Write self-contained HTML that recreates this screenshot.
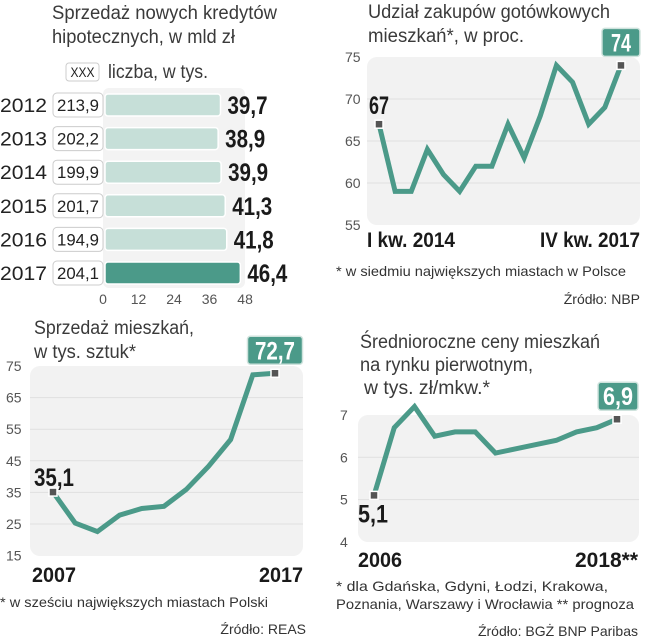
<!DOCTYPE html>
<html><head><meta charset="utf-8"><style>
html,body{margin:0;padding:0;background:#fff;width:645px;height:640px;overflow:hidden}
svg{display:block;font-family:"Liberation Sans",sans-serif}
.t{font-size:19px;fill:#3a3a3a}
.tick{font-size:14px;fill:#555}
.n{font-family:"Liberation Sans Narrow","Liberation Sans",sans-serif}
.b{font-weight:bold;fill:#1a1a1a}
.fn{font-size:14px;fill:#333}
</style></head><body>
<svg id="chart" width="645" height="640" viewBox="0 0 645 640">
<g>
 <text class="t" x="52" y="19" textLength="225" lengthAdjust="spacingAndGlyphs">Sprzedaż nowych kredytów</text>
 <text class="t" x="52" y="43" textLength="183" lengthAdjust="spacingAndGlyphs">hipotecznych, w mld zł</text>
 <rect x="66" y="63" width="33" height="18" rx="3" fill="#fff" stroke="#ccc"/>
 <text x="82.5" y="77" font-size="14" fill="#222" text-anchor="middle" textLength="24" lengthAdjust="spacingAndGlyphs">XXX</text>
 <text class="t" x="108" y="78" textLength="100" lengthAdjust="spacingAndGlyphs">liczba, w tys.</text>
 <rect x="103" y="88" width="142" height="200" rx="6" fill="#f3f3f3"/>
 <g id="bars"></g>
 <g id="barticks"></g>
</g>
<g>
 <text class="t" x="368" y="18" textLength="242" lengthAdjust="spacingAndGlyphs">Udział zakupów gotówkowych</text>
 <text class="t" x="368" y="42" textLength="156" lengthAdjust="spacingAndGlyphs">mieszkań*, w proc.</text>
 <rect x="367" y="57" width="273" height="168" rx="10" fill="#f2f2f2"/>
 <g id="c2"></g>
 <text class="b" x="367" y="247" font-size="21" textLength="88" lengthAdjust="spacingAndGlyphs">I kw. 2014</text>
 <text class="b" x="540" y="247" font-size="21" textLength="100" lengthAdjust="spacingAndGlyphs">IV kw. 2017</text>
 <text class="fn" x="336" y="276" textLength="290" lengthAdjust="spacingAndGlyphs">* w siedmiu największych miastach w Polsce</text>
 <text class="fn" x="640" y="304" text-anchor="end">Źródło: NBP</text>
</g>
<g>
 <text class="t" x="34" y="334" textLength="160" lengthAdjust="spacingAndGlyphs">Sprzedaż mieszkań,</text>
 <text class="t" x="34" y="358" textLength="102" lengthAdjust="spacingAndGlyphs">w tys. sztuk*</text>
 <rect x="30" y="366" width="273" height="190" rx="10" fill="#f2f2f2"/>
 <g id="c3"></g>
 <text class="b" x="32" y="582" font-size="21" textLength="44" lengthAdjust="spacingAndGlyphs">2007</text>
 <text class="b" x="259" y="582" font-size="21" textLength="44" lengthAdjust="spacingAndGlyphs">2017</text>
 <text class="fn" x="0" y="607" textLength="268" lengthAdjust="spacingAndGlyphs">* w sześciu największych miastach Polski</text>
 <text class="fn" x="306" y="634" text-anchor="end">Źródło: REAS</text>
</g>
<g>
 <text class="t" x="360" y="348" textLength="240" lengthAdjust="spacingAndGlyphs">Średnioroczne ceny mieszkań</text>
 <text class="t" x="360" y="371" textLength="173" lengthAdjust="spacingAndGlyphs">na rynku pierwotnym,</text>
 <text class="t" x="364" y="394" textLength="126" lengthAdjust="spacingAndGlyphs">w tys. zł/mkw.*</text>
 <rect x="358" y="415" width="281" height="127" rx="10" fill="#f2f2f2"/>
 <g id="c4"></g>
 <text class="b" x="358" y="567" font-size="21" textLength="44" lengthAdjust="spacingAndGlyphs">2006</text>
 <text class="b" x="575" y="567" font-size="21" textLength="63" lengthAdjust="spacingAndGlyphs">2018**</text>
 <text class="fn" x="336" y="591" textLength="272" lengthAdjust="spacingAndGlyphs">* dla Gdańska, Gdyni, Łodzi, Krakowa,</text>
 <text class="fn" x="336" y="609" textLength="298" lengthAdjust="spacingAndGlyphs">Poznania, Warszawy i Wrocławia ** prognoza</text>
 <text class="fn" x="638" y="636" text-anchor="end">Źródło: BGŻ BNP Paribas</text>
</g>
</svg>
<script>
const barYears=["2012","2013","2014","2015","2016","2017"];
const barValues=[39.7,38.9,39.9,41.3,41.8,46.4];
const barCounts=["213,9","202,2","199,9","201,7","194,9","204,1"];
const barTicks=[0,12,24,36,48];
const cashValues=[67,59,59,64,61,59,62,62,67,63,68,74,72,67,69,74];
const cashTicks=[55,60,65,70,75];
const salesValues=[35.1,25.3,22.6,27.8,29.9,30.6,35.9,43.2,51.7,72.2,72.7];
const salesTicks=[15,25,35,45,55,65,75];
const priceValues=[5.1,6.7,7.2,6.5,6.6,6.6,6.1,6.2,6.3,6.4,6.6,6.7,6.9];
const priceTicks=[4,5,6,7];
const NS="http://www.w3.org/2000/svg";
const TEAL="#4b9a89";
function mk(p,tag,at,txt){const e=document.createElementNS(NS,tag);for(const k in at)e.setAttribute(k,at[k]);if(txt!==undefined)e.textContent=txt;p.appendChild(e);return e;}
const fmt=v=>String(v).replace('.',',');
const bx=v=>103+v*2.96;
const by=i=>105+i*33.6;
const bg=document.getElementById('bars');
barYears.forEach((yr,i)=>{
 const last=i===barYears.length-1;
 let e=mk(bg,'text',{x:0,y:by(i)+7,'font-size':19,fill:'#222',textLength:47,lengthAdjust:'spacingAndGlyphs'},yr);
 
 
 e=mk(bg,'rect',{x:bx(0)+2,y:by(i)-11,width:bx(barValues[i])-bx(0)-2,height:22,rx:3,fill:last?TEAL:'#c6dfd8',stroke:'#fff','stroke-width':1.5});
 
 
 e=mk(bg,'rect',{x:53,y:by(i)-12,width:50,height:24,rx:4,fill:'#fff',stroke:'#ccc'});
 
 
 e=mk(bg,'text',{x:57,y:by(i)+6,'font-size':17,fill:'#222',textLength:42,lengthAdjust:'spacingAndGlyphs'},barCounts[i]);
 
 
 e=mk(bg,'text',{x:bx(barValues[i])+7,y:by(i)+9,'font-size':25,class:'b',textLength:40,lengthAdjust:'spacingAndGlyphs'},fmt(barValues[i]));
 
 
});
const bt=document.getElementById('barticks');
barTicks.forEach(t=>{const e=mk(bt,'text',{x:bx(t),y:304,class:'tick','text-anchor':'middle'},t);
 
 });
function line(id,vals,ticks,x0,dx,yTop,tTop,ppu,tickX,gx0,gx1,startLbl,endBox){
 const g=document.getElementById(id);
 const y=v=>yTop+(tTop-v)*ppu;
 const x=i=>x0+i*dx;
 ticks.forEach((t,k)=>{
  if(k>0&&k<ticks.length-1){const l=mk(g,'line',{x1:gx0,x2:gx1,y1:y(t),y2:y(t),stroke:'#e0e0e0','stroke-width':1});
  
  }
  const e=mk(g,'text',{x:tickX,y:y(t)+5,class:'tick','font-size':15},t);
  
  
 });
 const p=mk(g,'polyline',{points:vals.map((v,i)=>x(i)+','+y(v)).join(' '),fill:'none',stroke:TEAL,'stroke-width':5,'stroke-linejoin':'miter'});
 
 
 [0,vals.length-1].forEach(i=>{const m=mk(g,'rect',{x:x(i)-4,y:y(vals[i])-4,width:8,height:8,fill:'#555',stroke:'#fff','stroke-width':1.5});
  
  });
 const sl=fmt(vals[0]);
 const s=mk(g,'text',{x:startLbl[0],y:startLbl[1](y(vals[0])),'font-size':25,class:'b',textLength:sl.length*10,lengthAdjust:'spacingAndGlyphs'},sl);
 
 
 const lx=x(vals.length-1),ly=y(vals[vals.length-1]);
 const w=endBox;
 const r=mk(g,'rect',{x:lx+w[1]-w[0]/2,y:ly-37,width:w[0],height:28,rx:3,fill:TEAL,stroke:'#cfe3dd','stroke-width':1.5});
 
 
 const el=fmt(vals[vals.length-1]);
 const t=mk(g,'text',{x:lx+w[1]-(el.length*10)/2,y:ly-14,'font-size':25,fill:'#fff','font-weight':'bold',textLength:el.length*10,lengthAdjust:'spacingAndGlyphs'},el);
 
 
}
line('c2',cashValues,cashTicks,379,16.13,57,75,8.4,345,367,640,[369,yy=>yy-10],[38,0]);
line('c3',salesValues,salesTicks,53,22.2,366,75,3.16,6,30,303,[34,yy=>yy-6],[55,0]);
line('c4',priceValues,priceTicks,374,20.25,415,7,42.3,340,358,639,[358,yy=>yy+27],[40,1]);
</script>
</body></html>
